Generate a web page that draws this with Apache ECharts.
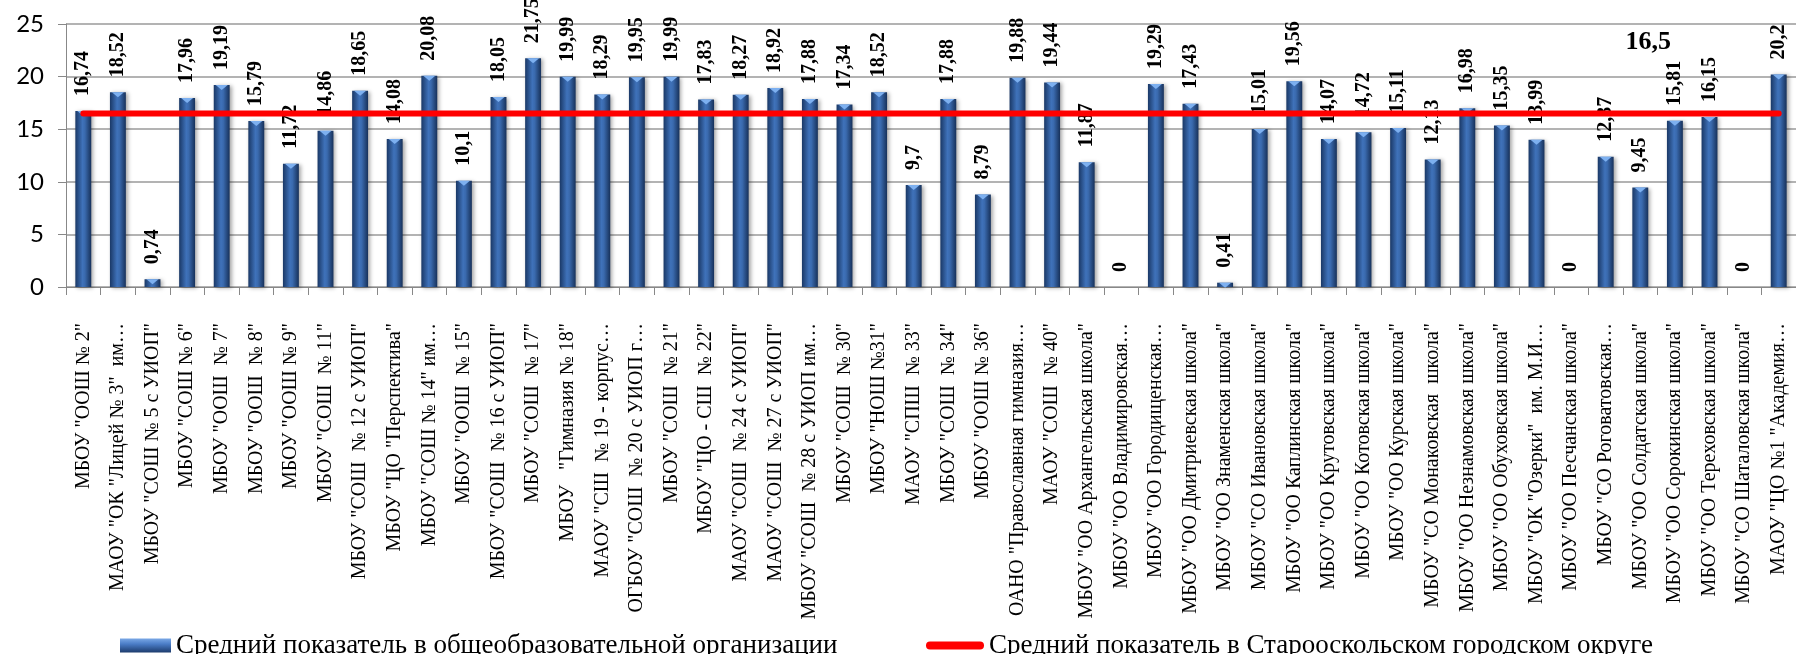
<!DOCTYPE html>
<html>
<head>
<meta charset="utf-8">
<script src="https://cdn.jsdelivr.net/npm/echarts@6/dist/echarts.min.js"></script>
<style>
html,body{margin:0;padding:0;background:#fff;}
#chart{width:1796px;height:654px;}
</style>
</head>
<body>
<div id="chart"></div>
<script>
const categories = [
  'МБОУ "ООШ № 2"',
  'МАОУ "ОК "Лицей № 3"  им…',
  'МБОУ "СОШ № 5 с УИОП"',
  'МБОУ "СОШ № 6"',
  'МБОУ "ООШ  № 7"',
  'МБОУ "ООШ  № 8"',
  'МБОУ "ООШ № 9"',
  'МБОУ "СОШ  № 11"',
  'МБОУ "СОШ  № 12 с УИОП"',
  'МБОУ "ЦО "Перспектива"',
  'МБОУ "СОШ № 14" им…',
  'МБОУ "ООШ  № 15"',
  'МБОУ "СОШ  № 16 с УИОП"',
  'МБОУ "СОШ  № 17"',
  'МБОУ   "Гимназия № 18"',
  'МАОУ "СШ  № 19 - корпус…',
  'ОГБОУ "СОШ  № 20 с УИОП г…',
  'МБОУ "СОШ  № 21"',
  'МБОУ "ЦО - СШ  № 22"',
  'МАОУ "СОШ  № 24 с УИОП"',
  'МАОУ "СОШ  № 27 с УИОП"',
  'МБОУ "СОШ  № 28 с УИОП им…',
  'МБОУ "СОШ  № 30"',
  'МБОУ "НОШ №31"',
  'МАОУ "СПШ  № 33"',
  'МБОУ "СОШ  № 34"',
  'МБОУ "ООШ № 36"',
  'ОАНО "Православная гимназия…',
  'МАОУ "СОШ  № 40"',
  'МБОУ "ОО Архангельская школа"',
  'МБОУ "ОО Владимировская…',
  'МБОУ "ОО Городищенская…',
  'МБОУ "ОО Дмитриевская школа"',
  'МБОУ "ОО Знаменская школа"',
  'МБОУ "СО Ивановская школа"',
  'МБОУ "ОО Каплинская школа"',
  'МБОУ "ОО Крутовская школа"',
  'МБОУ "ОО Котовская школа"',
  'МБОУ "ОО Курская школа"',
  'МБОУ "СО Монаковская  школа"',
  'МБОУ "ОО Незнамовская школа"',
  'МБОУ "ОО Обуховская школа"',
  'МБОУ "ОК "Озерки"  им. М.И…',
  'МБОУ "ОО Песчанская школа"',
  'МБОУ "СО Роговатовская…',
  'МБОУ "ОО Солдатская школа"',
  'МБОУ "ОО Сорокинская школа"',
  'МБОУ "ОО Тереховская школа"',
  'МБОУ "СО Шаталовская школа"',
  'МАОУ "ЦО №1 "Академия…'
];
const schoolValues = [
  16.74, 18.52, 0.74, 17.96, 19.19, 15.79, 11.72, 14.86, 18.65, 14.08,
  20.08, 10.1, 18.05, 21.75, 19.99, 18.29, 19.95, 19.99, 17.83, 18.27,
  18.92, 17.88, 17.34, 18.52, 9.7, 17.88, 8.79, 19.88, 19.44, 11.87,
  0, 19.29, 17.43, 0.41, 15.01, 19.56, 14.07, 14.72, 15.11, 12.13,
  16.98, 15.35, 13.99, 0, 12.37, 9.45, 15.81, 16.15, 0, 20.2
];
const districtAverage = 16.5;
const districtLabelIndex = 45;
const yTicks = { min: 0, max: 25, interval: 5 };
const seriesNames = [
  'Средний показатель в общеобразовательной организации',
  'Средний показатель в Старооскольском городском округе'
];

const fmt = v => String(v).replace('.', ',');
const serif = '"Liberation Serif", "Times New Roman", serif';

const lineData = categories.map((c, i) => i === districtLabelIndex
  ? { value: districtAverage, label: {
      show: true, position: 'top', distance: 58, offset: [8, 0],
      formatter: p => fmt(p.value),
      fontFamily: serif, fontWeight: 'bold', fontSize: 26, color: '#000'
    } }
  : districtAverage);

const capData = schoolValues.map(v => v > 0 ? v : null);

const barGradient = new echarts.graphic.LinearGradient(0, 0, 1, 0, [
  { offset: 0, color: '#1a3866' },
  { offset: 0.45, color: '#3f72ba' },
  { offset: 0.6, color: '#3a6aae' },
  { offset: 1, color: '#17315a' }
]);
const legendBarGradient = new echarts.graphic.LinearGradient(0, 0, 0, 1, [
  { offset: 0, color: '#7aa8e6' },
  { offset: 0.4, color: '#4a7cc6' },
  { offset: 1, color: '#1c3b6c' }
]);

const chart = echarts.init(document.getElementById('chart'), null, { renderer: 'canvas' });
chart.setOption({
  animation: false,
  backgroundColor: '#fff',
  grid: { left: 66, right: 0, top: 24, bottom: 367, containLabel: false },
  legend: [
    {
      left: 115, top: 627,
      itemWidth: 51, itemHeight: 14, itemGap: 6,
      textStyle: { fontFamily: serif, fontSize: 27, color: '#000' },
      data: [{ name: seriesNames[0], icon: 'rect', itemStyle: { color: legendBarGradient } }]
    },
    {
      left: 921, top: 627,
      itemWidth: 58, itemHeight: 9,
      textStyle: { fontFamily: serif, fontSize: 27, color: '#000' },
      data: [{ name: seriesNames[1], icon: 'path://M4,0 H54 A4,4 0 0 1 54,8 H4 A4,4 0 0 1 4,0 Z', itemStyle: { color: '#ff0000' } }]
    }
  ],
  xAxis: {
    type: 'category',
    data: categories,
    boundaryGap: true,
    axisLine: { show: true, lineStyle: { color: '#888', width: 1 } },
    axisTick: { show: true, length: 8, lineStyle: { color: '#888' } },
    axisLabel: {
      interval: 0, rotate: 90, margin: 36,
      fontFamily: serif, fontSize: 20, color: '#000'
    },
    splitLine: { show: false }
  },
  yAxis: {
    type: 'value',
    min: yTicks.min, max: yTicks.max, interval: yTicks.interval,
    axisLine: { show: true, lineStyle: { color: '#888' } },
    axisTick: { show: true, length: 8, inside: false, lineStyle: { color: '#888' } },
    axisLabel: { fontFamily: 'Lato, "Open Sans", sans-serif', fontSize: 24, color: '#000', margin: 22 },
    splitLine: { show: true, lineStyle: { color: '#9a9a9a', width: 1.5 } }
  },
  series: [
    {
      name: seriesNames[0],
      type: 'bar',
      data: schoolValues,
      barWidth: '46%',
      z: 2,
      itemStyle: {
        color: barGradient,
        shadowColor: 'rgba(0,0,0,0.35)', shadowBlur: 4, shadowOffsetX: 2, shadowOffsetY: 1
      },
      label: {
        show: true, position: 'top', rotate: 90, align: 'left', verticalAlign: 'middle',
        distance: 15,
        formatter: p => fmt(p.value),
        fontFamily: serif, fontWeight: 'bold', fontSize: 20, color: '#000'
      }
    },
    {
      name: 'cap',
      type: 'pictorialBar',
      data: capData,
      barWidth: '46%',
      symbol: 'path://M0,0 L10,0 L5,4 Z',
      symbolSize: [12, 5],
      symbolPosition: 'end',
      symbolOffset: [0, 0],
      z: 2.5,
      silent: true,
      itemStyle: { color: '#7db0f0' }
    },
    {
      name: seriesNames[1],
      type: 'line',
      data: lineData,
      symbol: 'circle',
      symbolSize: 0.1,
      showSymbol: true,
      z: 3,
      lineStyle: { color: '#ff0000', width: 6, cap: 'round' },
      itemStyle: { color: '#ff0000' }
    }
  ]
});
</script>
</body>
</html>
